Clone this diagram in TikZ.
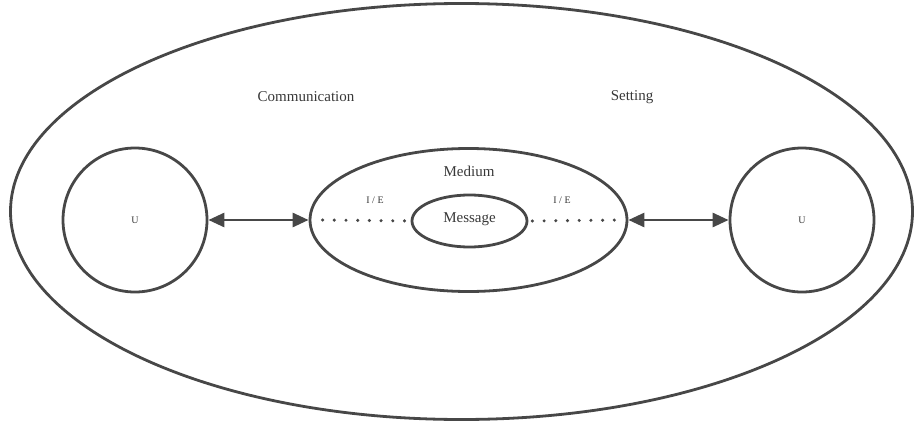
\documentclass[tikz,border=0pt]{standalone}
\usepackage{fontspec}
\setmainfont{Liberation Serif}
\usetikzlibrary{positioning, shapes.geometric, arrows.meta}

\begin{document}
\begin{tikzpicture}[x=1pt, y=-1pt,
		ring/.style={draw=black!72, line width=2.8pt, inner sep=0pt},
		oval/.style={ring, ellipse},
		user/.style={ring, circle, minimum size=144pt, font=\fontsize{10}{12}\selectfont, text=black!78},
		label/.style={font=\fontsize{15}{18}\selectfont, text=black!78},
		small/.style={font=\fontsize{10}{12}\selectfont, text=black!78},
		link/.style={draw=black!72, line width=2.8pt, {Triangle[length=16pt, width=14pt]}-{Triangle[length=16pt, width=14pt]}},
		dots/.style={draw=black!72, line width=3.4pt, line cap=round, dash pattern=on 0pt off 11.7pt}
	]
		\useasboundingbox (0, 0) rectangle (916, 423);
		\node[oval, minimum width=902pt, minimum height=416pt] (setting) at (461.5, 211.5) {};
		\node[label] (comm) at (306, 97) {Communication};
		\node[label] (set) at (632, 97) {Setting};
		
		\node[user] (userA) at (135, 220) {U};
		\node[user] (userB) at (802, 220) {U};
		
		\node[oval, minimum width=317pt, minimum height=143pt] (medium) at (468.5, 220) {};
		\node[oval, minimum width=115pt, minimum height=52pt] (message) at (469.5, 221) {};
		\node[label] (msg) at (469.5, 219) {Message};
		\node[label] (med) at (469, 171) {Medium};
		\node[small] (ieA) at (375, 200) {I / E};
		\node[small] (ieB) at (562, 200) {I / E};
		
		\draw[link] (userA.east) -- (medium.west);
		\draw[link] (medium.east) -- (userB.west);
		\draw[dots] ([xshift=14pt] medium.west) -- (message.west);
		\draw[dots] ([xshift=4pt] message.east) -- ([xshift=-6pt] medium.east);
	\end{tikzpicture}
\end{document}
